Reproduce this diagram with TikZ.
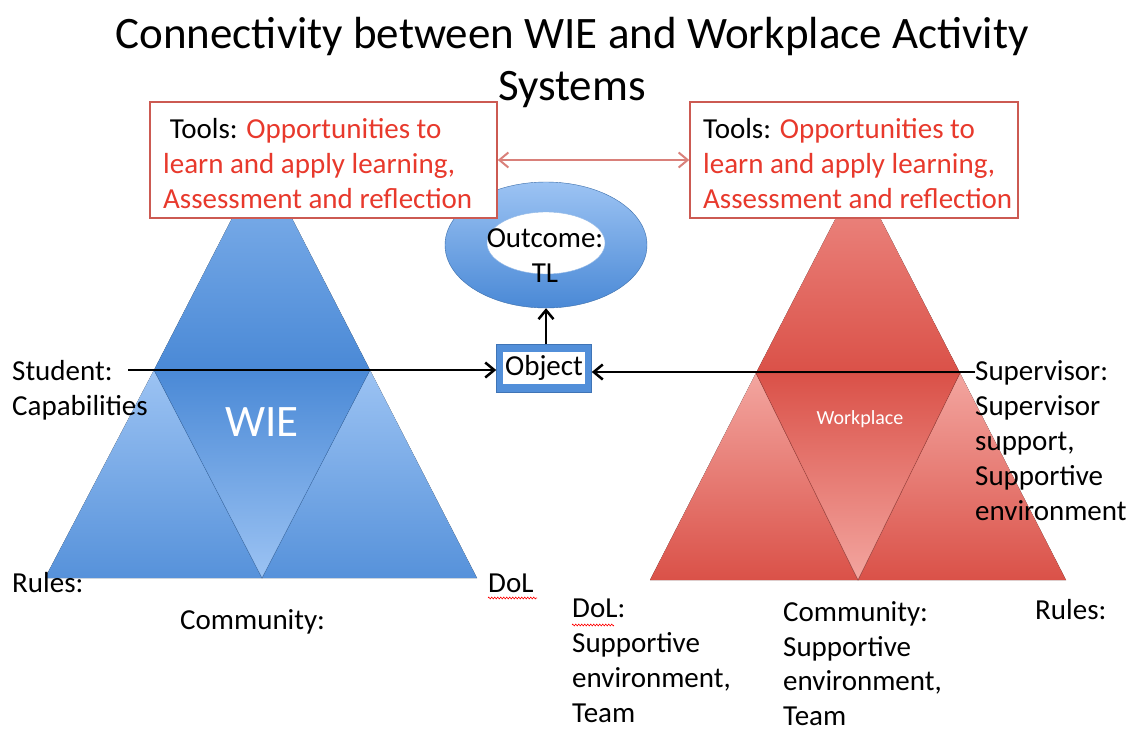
\documentclass[tikz,border=0pt]{standalone}
\usepackage{fontspec}
\setmainfont{Carlito}
\usetikzlibrary{arrows.meta,shapes.geometric,decorations.pathmorphing}
\definecolor{bdark}{HTML}{4A89D6}
\definecolor{blight}{HTML}{9CC3F3}
\definecolor{btop}{HTML}{84B3EC}
\definecolor{bedge}{HTML}{3F78BE}
\definecolor{rdark}{HTML}{DA5148}
\definecolor{rlight}{HTML}{F3A6A0}
\definecolor{rtop}{HTML}{EE8C86}
\definecolor{redge}{HTML}{A8443E}
\definecolor{boxred}{HTML}{CC5A52}
\definecolor{txtred}{HTML}{E8392C}
\definecolor{arrred}{HTML}{D9807A}
\begin{document}
\begin{tikzpicture}[x=1pt,y=-1pt,
  body/.style={font=\fontsize{29}{35}\selectfont, inner sep=0pt, align=left, anchor=base west},
  titletxt/.style={font=\fontsize{45}{52}\selectfont, inner sep=0pt, align=center, anchor=base},
  toolbox/.style={draw=boxred, line width=1.6pt, fill=white, inner sep=0pt},
  arr/.style={-{Straight Barb[length=9pt,width=15pt]}, line width=2.5pt, black},
  redarr/.style={{Straight Barb[length=9pt,width=15pt]}-{Straight Barb[length=9pt,width=15pt]}, line width=2pt, arrred},
  squig/.style={red, line width=0.6pt, decorate, decoration={zigzag, amplitude=0.9pt, segment length=3pt}}
]
\useasboundingbox (0,0) rectangle (1133,734);
\fill[white] (0,0) rectangle (1133,734);

% ---- WIE triangle (blue)
\fill[top color=btop, bottom color=bdark] (262,160) -- (154,370) -- (370,370) -- cycle;
\fill[top color=blight, bottom color=bdark!85!blight] (154,370) -- (45,578) -- (262,578) -- cycle;
\fill[top color=blight, bottom color=bdark!85!blight] (370,370) -- (262,578) -- (477,578) -- cycle;
\fill[top color=bdark, bottom color=blight] (154,370) -- (370,370) -- (262,578) -- cycle;
\draw[bedge, line width=0.6pt, opacity=0.6] (154,370) -- (370,370) (154,370) -- (262,578) -- (370,370);

% ---- Workplace triangle (red)
\fill[top color=rtop, bottom color=rdark] (858,175) -- (756,373) -- (960,373) -- cycle;
\fill[top color=rlight, bottom color=rdark] (756,373) -- (650,580) -- (858,580) -- cycle;
\fill[top color=rlight, bottom color=rdark] (960,373) -- (858,580) -- (1066,580) -- cycle;
\fill[top color=rdark, bottom color=rlight] (756,373) -- (960,373) -- (858,580) -- cycle;
\draw[redge, line width=0.7pt, opacity=0.6] (756,373) -- (960,373) (756,373) -- (858,580) -- (960,373);

% ---- Outcome ring
\node[ellipse, minimum width=202pt, minimum height=126pt, top color=blight, bottom color=bdark, draw=bdark!80!black, line width=0.4pt] (ring) at (546,245) {};
\node[ellipse, minimum width=118pt, minimum height=62pt, fill=white, draw=bdark!60, line width=0.4pt] (hole) at (546,243) {};
\node[body, align=center, anchor=base] (outcome) at (545,282) {Outcome:\\TL};

% ---- Tools boxes
\node[toolbox, minimum width=347pt, minimum height=116pt] (lbox) at (323.5,160) {};
\node[toolbox, minimum width=328pt, minimum height=116pt] (rbox) at (854,160) {};
\node[body] (ltxt) at (163,208) {\ Tools: \textcolor{txtred}{Opportunities to}\\\textcolor{txtred}{learn and apply learning,}\\\textcolor{txtred}{Assessment and reflection}};
\node[body] (rtxt) at (703,208) {Tools: \textcolor{txtred}{Opportunities to}\\\textcolor{txtred}{learn and apply learning,}\\\textcolor{txtred}{Assessment and reflection}};
\draw[redarr] (lbox.east) -- (rbox.west);

% ---- Object box
\node[draw=bdark!85!black, line width=0.6pt, fill=bdark!90!blight, minimum width=95pt, minimum height=48pt, inner sep=0pt] (obj) at (544,368) {};
\node[fill=white, minimum width=82pt, minimum height=32pt, inner sep=0pt, font=\fontsize{29}{35}\selectfont] (objtxt) at (544,368) {Object};

% ---- Title
\node[titletxt] (title) at (572,100) {Connectivity between WIE and Workplace Activity\\Systems};

% ---- Labels
\node[body] (student) at (12,415) {Student:\\Capabilities};
\node[body, text=white, font=\fontsize{45}{52}\selectfont, anchor=base] (wie) at (262,436) {WIE};
\node[body, text=white, font=\fontsize{20}{24}\selectfont, anchor=base] (work) at (860,424) {Workplace};
\node[body] (rulesl) at (12,592) {Rules:};
\node[body] (doll) at (488,592) {DoL};
\node[body] (comml) at (180,629) {Community:};
\node[body] (dolr) at (572,722) {DoL:\\Supportive\\environment,\\Team};
\node[body, font=\fontsize{29}{34.5}\selectfont] (commr) at (783,725) {Community:\\Supportive\\environment,\\Team};
\node[body] (rulesr) at (1035,619) {Rules:};
\node[body] (sup) at (975,520) {Supervisor:\\Supervisor\\support,\\Supportive\\environment};
\draw[squig] (488,598) -- (537,598);
\draw[squig] (572,625) -- (614,625);

% ---- Connectors
\draw[arr] (ring.south |- obj.north) -- (ring.south);
\draw[arr] (128,370) coordinate (sarr) -- (sarr -| obj.west);
\draw[arr] (975,372) coordinate (uarr) -- (uarr -| obj.east);
\end{tikzpicture}
\end{document}
